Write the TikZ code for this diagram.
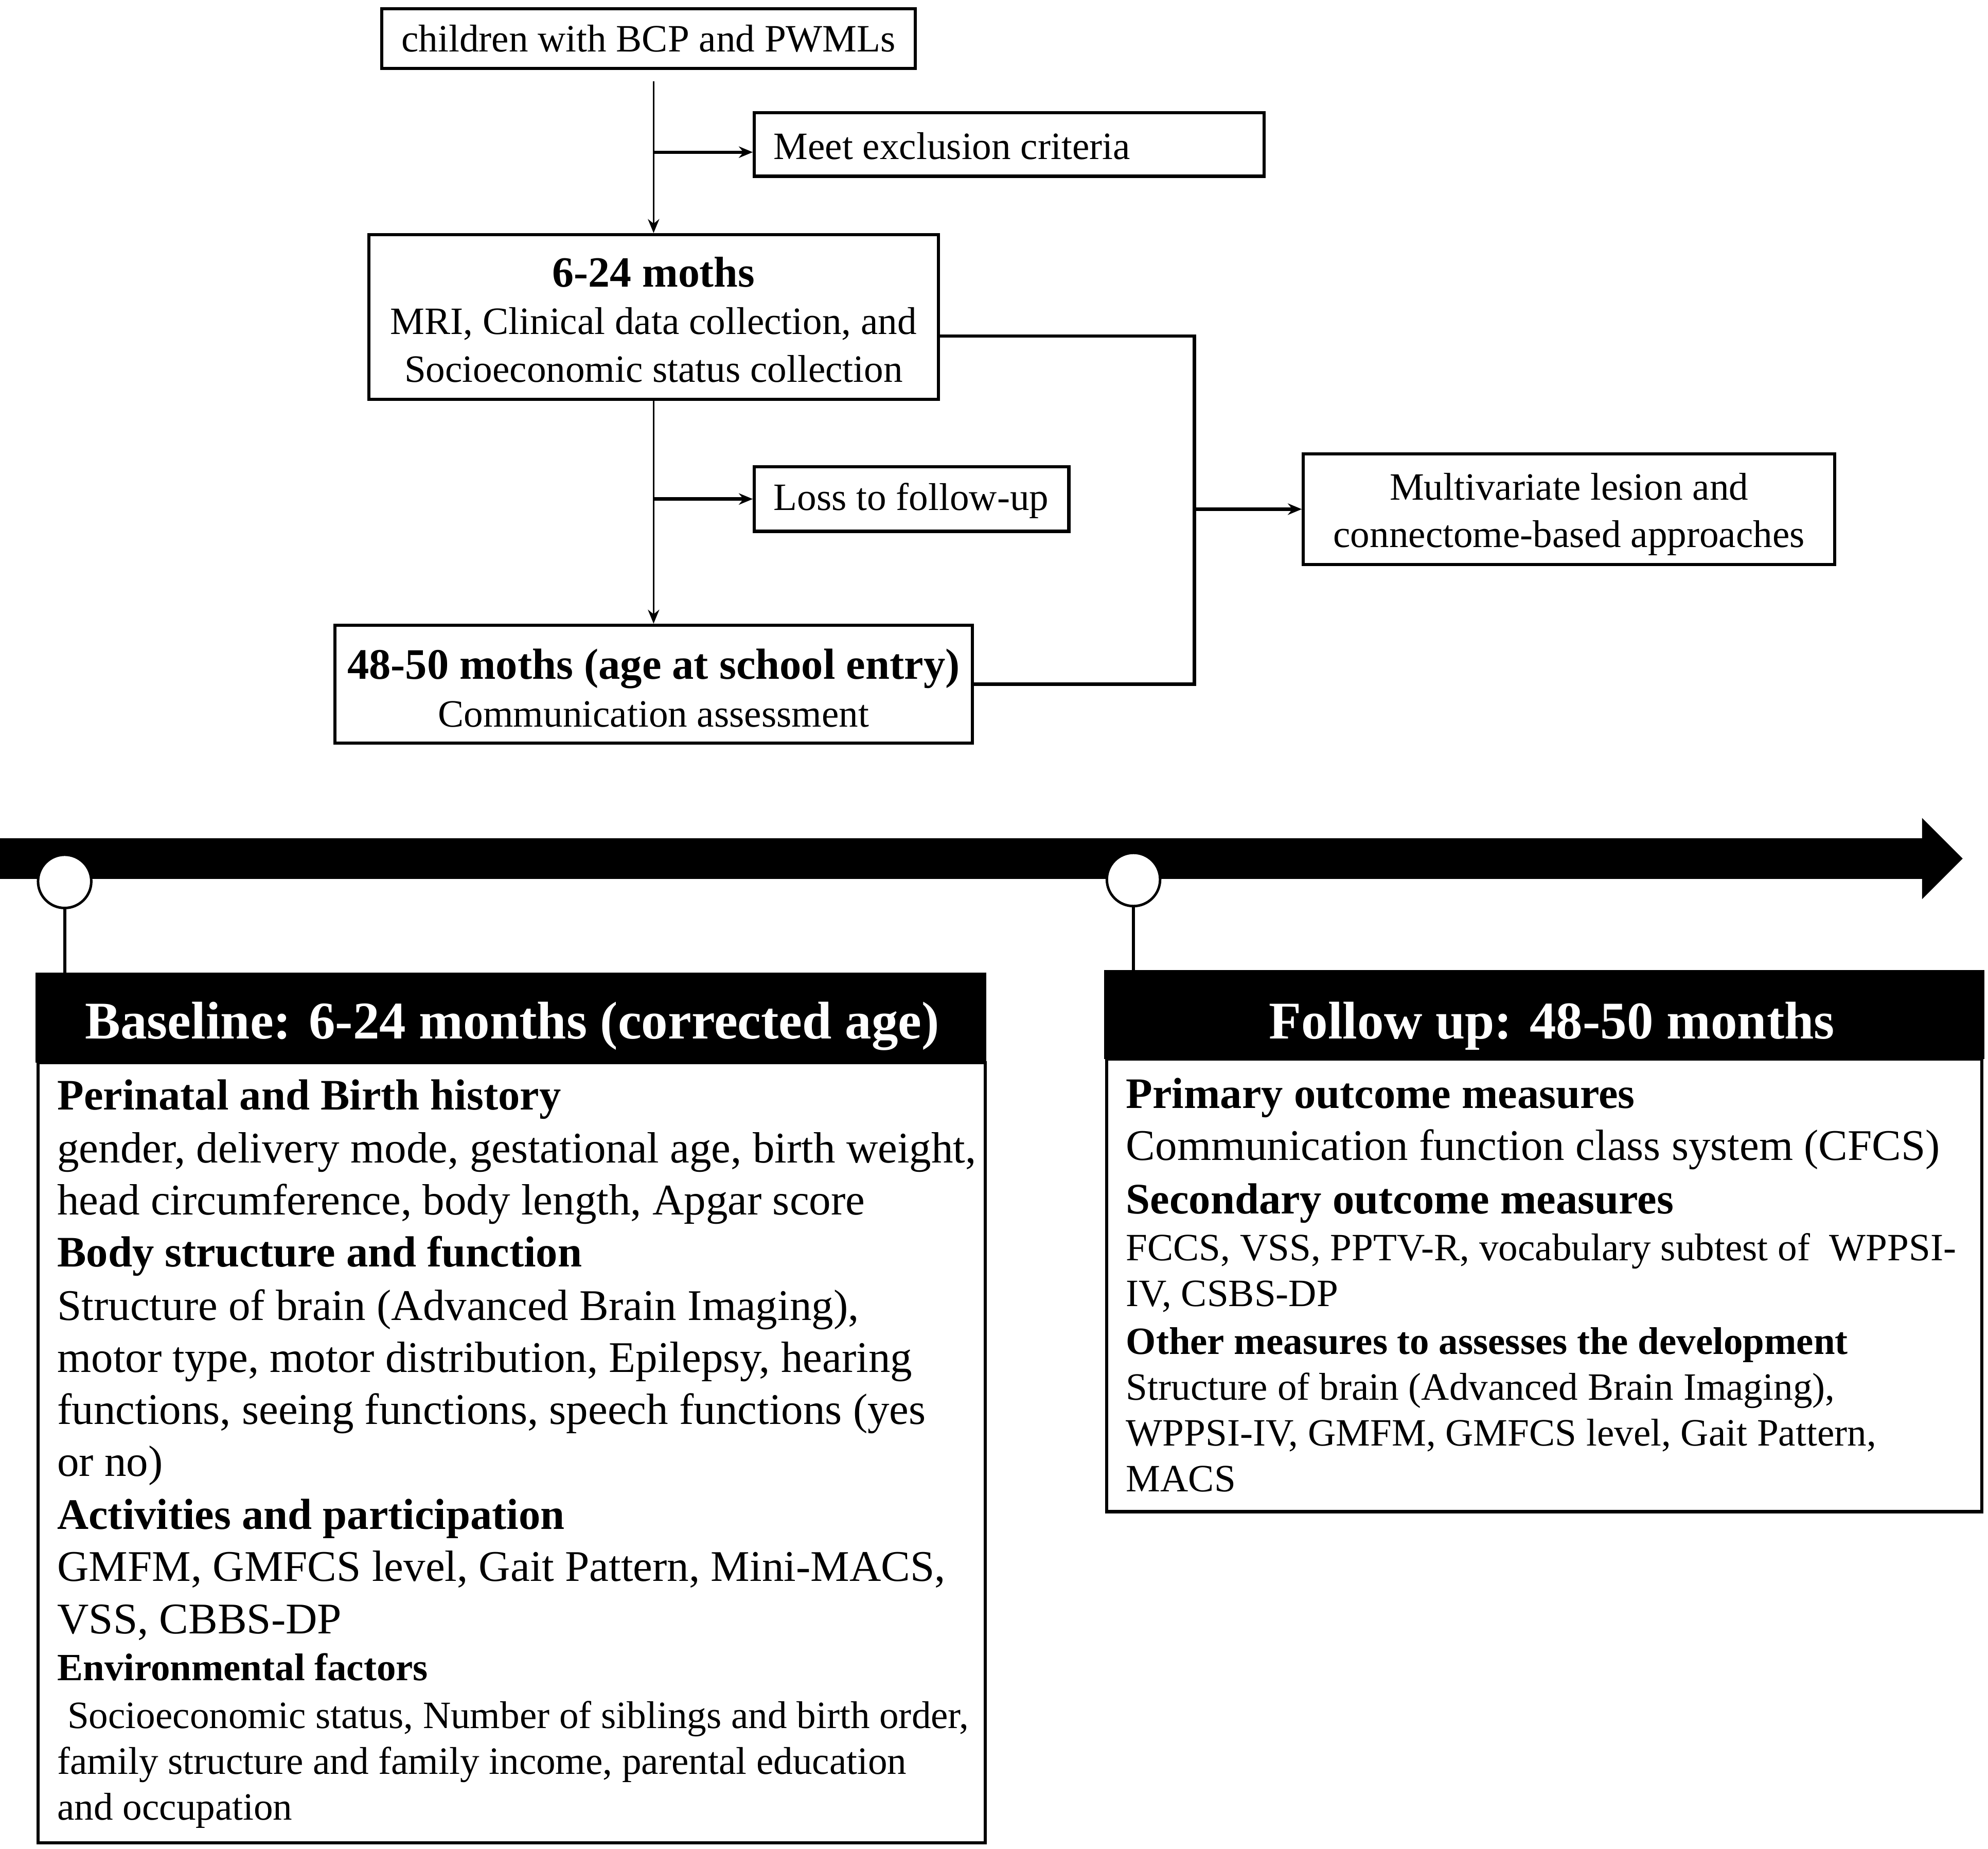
\documentclass[tikz,border=0pt]{standalone}
\usepackage{fontspec}
\setmainfont{Liberation Serif}
\usetikzlibrary{arrows.meta}
\begin{document}
\begin{tikzpicture}[x=1pt,y=-1pt,
  fbox/.style={draw,line width=2.5pt,inner sep=0pt},
  ftxt/.style={inner sep=0pt,align=center,font=\fontsize{30.5}{37.5}\selectfont},
  thin/.style={line width=1.4pt,-{Stealth[length=11pt,width=9pt]}},
  thick/.style={line width=2.6pt,-{Stealth[length=11pt,width=9pt]}},
  conn/.style={line width=2.6pt},
  ln/.style={anchor=base west,inner sep=0pt,font=\fontsize{34.5}{41}\selectfont},
  lnb/.style={anchor=base west,inner sep=0pt,font=\fontsize{34.3}{41}\selectfont\bfseries},
  lns/.style={anchor=base west,inner sep=0pt,font=\fontsize{30.5}{36}\selectfont},
  lnsb/.style={anchor=base west,inner sep=0pt,font=\fontsize{30.4}{36}\selectfont\bfseries},
  hdr/.style={fill=black,inner sep=0pt},
  hdrt/.style={anchor=base,text=white,inner sep=0pt,font=\fontsize{41.8}{48}\selectfont\bfseries},
  body/.style={draw,line width=2.5pt},
  dot/.style={circle,draw,line width=2pt,fill=white,minimum size=42pt,inner sep=0pt}
]
\useasboundingbox (0,0) rectangle (1568,1458);

% flowchart boxes
\node[fbox,minimum width=421pt,minimum height=47pt] (b1) at (511.5,30.5) {};
\node[ftxt] (b1t) at (b1.center) {children with BCP and PWMLs};

\node[fbox,minimum width=402pt,minimum height=50pt] (excl) at (796,114) {};
\node[ftxt,anchor=west] (exclt) at (610,115) {Meet exclusion criteria};

\node[fbox,minimum width=449pt,minimum height=130pt] (b2) at (515.5,250) {};
\node[ftxt] (b2t) at ([yshift=-2pt]b2.center) {{\fontsize{34}{40}\selectfont\textbf{6-24 moths}}\\MRI, Clinical data collection, and\\Socioeconomic status collection};

\node[fbox,minimum width=248pt,minimum height=51pt] (loss) at (719,393.5) {};
\node[ftxt,anchor=west] (losst) at (610,395) {Loss to follow-up};

\node[fbox,minimum width=503pt,minimum height=93pt] (b3) at (515.5,539.5) {};
\node[ftxt] (b3t) at ([yshift=-3pt]b3.center) {{\fontsize{34.3}{40}\selectfont\textbf{48-50 moths (age at school entry)}}\\Communication assessment};

\node[fbox,minimum width=419pt,minimum height=87pt] (multi) at (1237.5,401.5) {};
\node[ftxt] (multit) at ([yshift=-4pt]multi.center) {Multivariate lesion and\\connectome-based approaches};

% connectors
\coordinate (s1) at (515.5,64);
\coordinate (j1) at (515.5,120);
\coordinate (j2) at (515.5,393.5);
\coordinate (r1) at (942,265);
\coordinate (r2) at (942,539.5);
\coordinate (r3) at (942,401.5);
\draw[thin] (s1) -- (b2.north);
\draw[thick] (j1) -- (j1 -| excl.west);
\draw[thin] (b2.south) -- (b3.north);
\draw[thick] (j2) -- (loss.west);
\draw[conn] (b2.east |- r1) -- (r1) -- (r2) -- (b3.east);
\draw[thick] (r3) -- (multi.west);

% timeline
\fill (0,661) -- (1516,661) -- (1516,645) -- (1548,677) -- (1516,709) -- (1516,693) -- (0,693) -- cycle;
\node[dot] (c1) at (51,695) {};
\node[dot] (c2) at (894,693.5) {};

% baseline box
\node[hdr,minimum width=750pt,minimum height=71pt] (h1) at (403,802.5) {};
\node[hdrt] (h1t) at (404,819) {Baseline: 6-24 months (corrected age)};
\draw[body] (30,838) rectangle (777,1453);
\draw[line width=2.5pt] (c1.south) -- (c1.south |- h1.north);

\node[lnb] (l1) at (45,875) {Perinatal and Birth history};
\node[ln] (l2) at (45,917) {gender, delivery mode, gestational age, birth weight,};
\node[ln] (l3) at (45,958) {head circumference, body length, Apgar score};
\node[lnb] (l4) at (45,999) {Body structure and function};
\node[ln] (l5) at (45,1041) {Structure of brain (Advanced Brain Imaging),};
\node[ln] (l6) at (45,1082) {motor type, motor distribution, Epilepsy, hearing};
\node[ln] (l7) at (45,1123) {functions, seeing functions, speech functions (yes};
\node[ln] (l8) at (45,1164) {or no)};
\node[lnb] (l9) at (45,1206) {Activities and participation};
\node[ln] (l10) at (45,1247) {GMFM, GMFCS level, Gait Pattern, Mini-MACS,};
\node[ln] (l11) at (45,1288) {VSS, CBBS-DP};
\node[lnsb] (l12) at (45,1325) {Environmental factors};
\node[lns] (l13) at (53,1363) {Socioeconomic status, Number of siblings and birth order,};
\node[lns] (l14) at (45,1399) {family structure and family income, parental education};
\node[lns] (l15) at (45,1435) {and occupation};

% follow-up box
\node[hdr,minimum width=694pt,minimum height=70pt] (h2) at (1218,800) {};
\node[hdrt] (h2t) at (1224,819) {Follow up: 48-50 months};
\draw[body] (873,835) rectangle (1563,1192);
\draw[line width=2.5pt] (c2.south) -- (c2.south |- h2.north);

\node[lnb] (r1t) at (888,874) {Primary outcome measures};
\node[ln] (r2t) at (888,915) {Communication function class system (CFCS)};
\node[lnb] (r3t) at (888,957) {Secondary outcome measures};
\node[lns] (r4t) at (888,994) {FCCS, VSS, PPTV-R, vocabulary subtest of\ \ WPPSI-};
\node[lns] (r5t) at (888,1030) {IV, CSBS-DP};
\node[lnsb] (r6t) at (888,1068) {Other measures to assesses the development};
\node[lns] (r7t) at (888,1104) {Structure of brain (Advanced Brain Imaging),};
\node[lns] (r8t) at (888,1140) {WPPSI-IV, GMFM, GMFCS level, Gait Pattern,};
\node[lns] (r9t) at (888,1176) {MACS};
\end{tikzpicture}
\end{document}
